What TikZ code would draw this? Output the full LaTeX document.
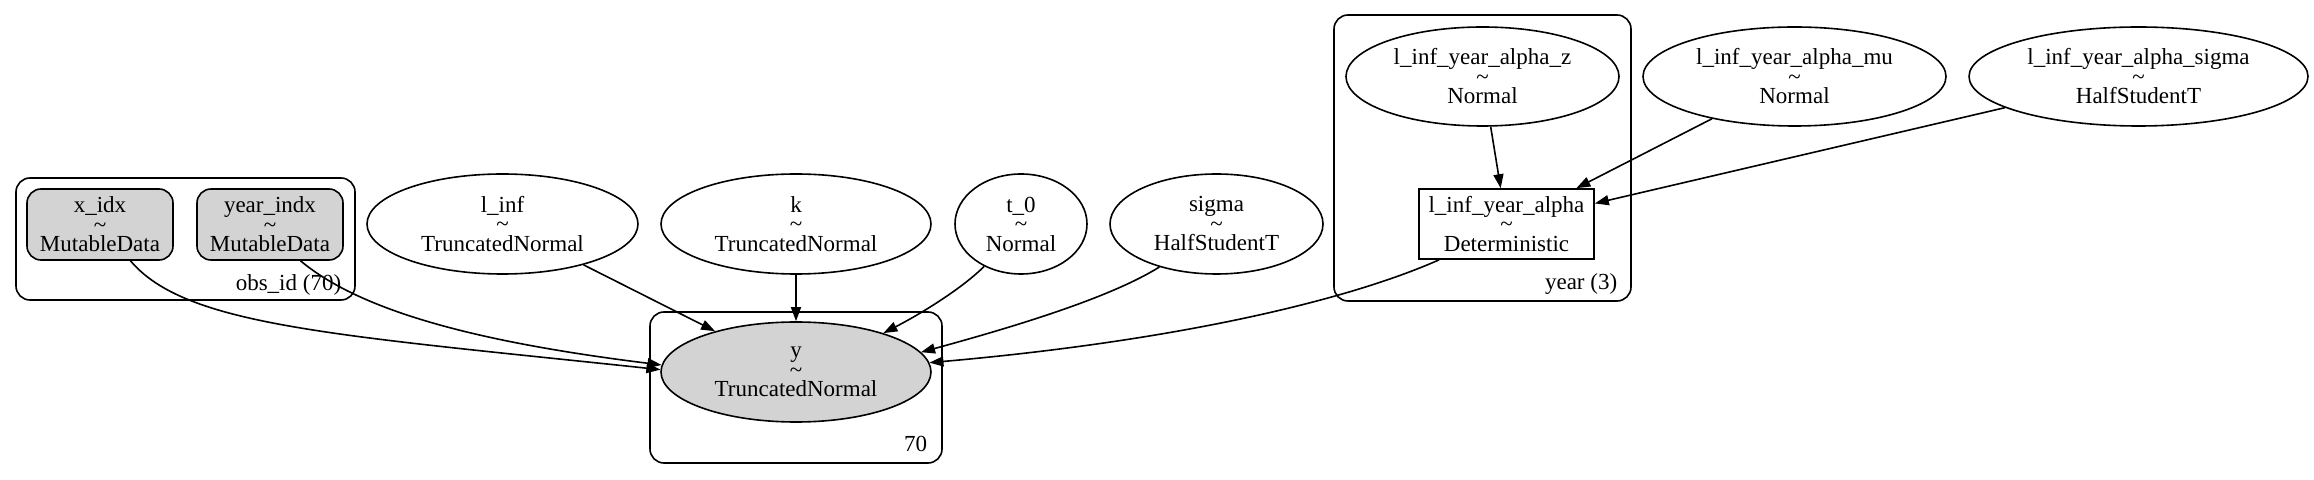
\documentclass[tikz,border=0pt]{standalone}
\usepackage{fontspec}
\setmainfont{Liberation Serif}
\usetikzlibrary{shapes.geometric, arrows.meta}
\definecolor{gvgray}{HTML}{D3D3D3}

\begin{document}
\begin{tikzpicture}[x=0.5pt, y=-0.5pt, line width=0.8pt,
    >={Triangle[length=7pt, width=5pt]},
    every node/.style={font=\fontsize{11.5}{9.75}\selectfont, align=center, inner sep=0pt},
    rv/.style={draw, ellipse, minimum height=50pt},
    data/.style={draw, rounded corners=7pt, fill=gvgray, minimum width=73pt, minimum height=35.5pt},
    plate/.style={draw, rounded corners=7pt}]
    \useasboundingbox (0,0) rectangle (2314,480);
    % plates
    \draw[plate] (16,178) rectangle (355,300);
    \draw[plate] (1334,15) rectangle (1631,301);
    \draw[plate] (650,312) rectangle (942,463);
    \node[anchor=base east] (obslabel) at (342,291) {obs\_id (70)};
    \node[anchor=base east] (yearlabel) at (1618,290) {year (3)};
    \node[anchor=base east] (ylabel) at (928,452) {70};

    \node[data] (xidx) at (100,224.5) {x\_idx\\\textasciitilde\\MutableData};
    \node[data] (yearindx) at (270,224.5) {year\_indx\\\textasciitilde\\MutableData};
    \node[rv, minimum width=135.5pt] (linf) at (502.5,224) {l\_inf\\\textasciitilde\\TruncatedNormal};
    \node[rv, minimum width=135pt] (k) at (796,224) {k\\\textasciitilde\\TruncatedNormal};
    \node[rv, minimum width=66pt] (tzero) at (1021,224) {t\_0\\\textasciitilde\\Normal};
    \node[rv, minimum width=106.5pt] (sigma) at (1216.5,224) {sigma\\\textasciitilde\\HalfStudentT};
    \node[rv, minimum width=136.5pt, minimum height=49.5pt] (alphaz) at (1482.5,76.5) {l\_inf\_year\_alpha\_z\\\textasciitilde\\Normal};
    \node[rv, minimum width=151.5pt, minimum height=49.5pt] (alphamu) at (1794.5,76.5) {l\_inf\_year\_alpha\_mu\\\textasciitilde\\Normal};
    \node[rv, minimum width=169.5pt, minimum height=49.5pt] (alphasigma) at (2138.5,76.5) {l\_inf\_year\_alpha\_sigma\\\textasciitilde\\HalfStudentT};
    \node[draw, minimum width=87.5pt, minimum height=35pt] (alpha) at (1506.5,224) {l\_inf\_year\_alpha\\\textasciitilde\\Deterministic};
    \node[rv, fill=gvgray, minimum width=135pt] (y) at (796,372) {y\\\textasciitilde\\TruncatedNormal};

    \draw[->] (alphaz) -- (alpha);
    \draw[->] (alphamu) -- (alpha);
    \draw[->] (alphasigma) -- (alpha);
    \draw[->] (xidx.-50) .. controls +(55,65) and +(-330,-35) .. (y.179);
    \draw[->] (yearindx.-50) .. controls +(60,50) and +(-186,-23) .. (y.177);
    \draw[->] (linf) -- (y);
    \draw[->] (k) -- (y);
    \draw[->] (tzero.229) .. controls +(-23,23) and +(35,-18) .. (y.24);
    \draw[->] (sigma.217) .. controls +(-45,28) and +(110,-30) .. (y.9);
    \draw[->] (alpha.208) .. controls +(-90,40) and +(250,-22) .. (y.4);
\end{tikzpicture}
\end{document}
